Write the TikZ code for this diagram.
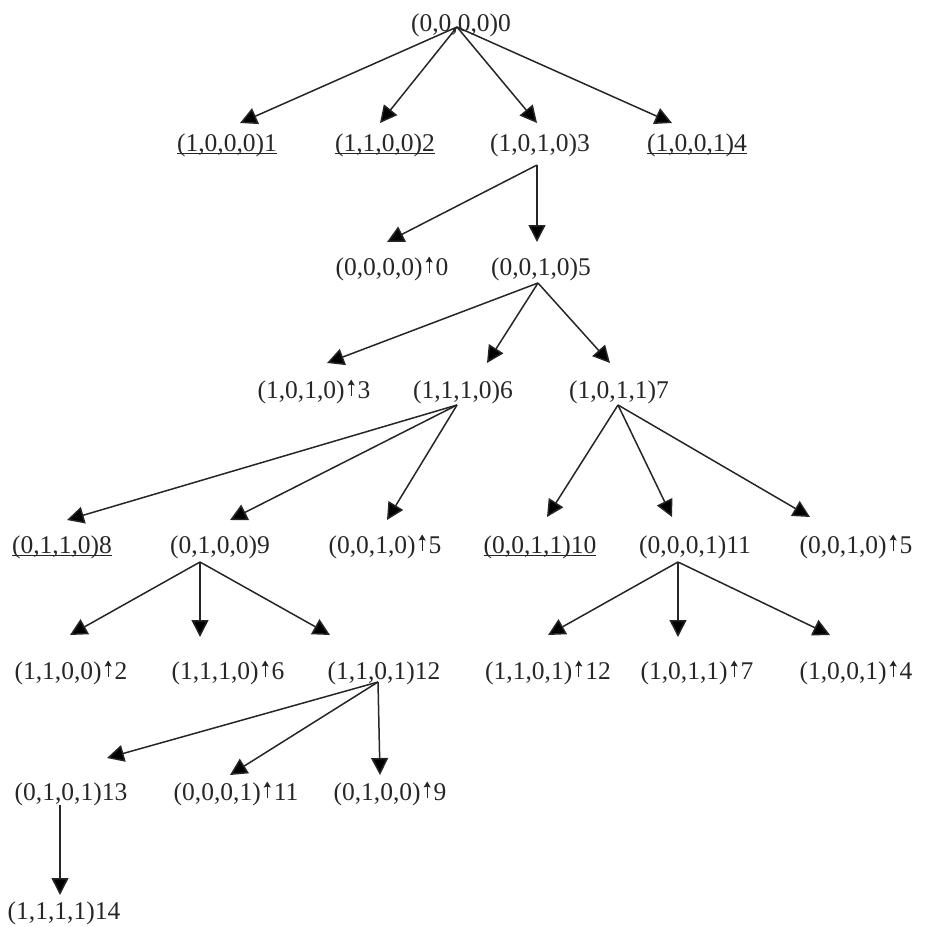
\documentclass[tikz,border=0pt]{standalone}
\usepackage{fontspec}
\setmainfont{Liberation Serif}
\usetikzlibrary{arrows.meta,calc}
% underlined state label
\newcommand{\ulbl}[1]{\setbox0\hbox{#1}\rlap{\rule[-3pt]{\wd0}{1.3pt}}\box0}
% thin upward arrow marking a repeated state
\newcommand{\rep}{\tikz[baseline=0pt,x=1pt,y=1pt]{%
  \draw[line width=1.1pt,-{Stealth[length=6pt,width=7pt,inset=1pt]}] (0,2.5)--(0,18.5);
  \path (-6.5,0) (6.5,0);}}
\begin{document}
\begin{tikzpicture}[x=1pt,y=-1pt,
  lbl/.style={inner sep=0pt, anchor=base, text=black!85,
              font=\fontsize{25.5}{30}\selectfont},
  arr/.style={draw=black!85, line width=1.5pt,
              -{Triangle[length=17pt,width=17pt]}}]
\useasboundingbox (0,0) rectangle (926,927);

% states, placed at their baselines
\node[lbl] (n0)   at (461,31)  {(0,0,0,0)0};
\node[lbl] (n1)   at (227,151) {\ulbl{(1,0,0,0)1}};
\node[lbl] (n2)   at (385,151) {\ulbl{(1,1,0,0)2}};
\node[lbl] (n3)   at (540,151) {(1,0,1,0)3};
\node[lbl] (n4)   at (697,151) {\ulbl{(1,0,0,1)4}};
\node[lbl] (r0)   at (392,275) {(0,0,0,0)\rep0};
\node[lbl] (n5)   at (541,275) {(0,0,1,0)5};
\node[lbl] (r3)   at (314,398) {(1,0,1,0)\rep3};
\node[lbl] (n6)   at (463,398) {(1,1,1,0)6};
\node[lbl] (n7)   at (619,398) {(1,0,1,1)7};
\node[lbl] (n8)   at (62,553)  {\ulbl{(0,1,1,0)8}};
\node[lbl] (n9)   at (220,553) {(0,1,0,0)9};
\node[lbl] (r5a)  at (385,553) {(0,0,1,0)\rep5};
\node[lbl] (n10)  at (540,553) {\ulbl{(0,0,1,1)10}};
\node[lbl] (n11)  at (695,553) {(0,0,0,1)11};
\node[lbl] (r5b)  at (856,553) {(0,0,1,0)\rep5};
\node[lbl] (r2)   at (71,679)  {(1,1,0,0)\rep2};
\node[lbl] (r6)   at (228,679) {(1,1,1,0)\rep6};
\node[lbl] (n12)  at (384,679) {(1,1,0,1)12};
\node[lbl] (r12)  at (548,679) {(1,1,0,1)\rep12};
\node[lbl] (r7)   at (697,679) {(1,0,1,1)\rep7};
\node[lbl] (r4)   at (856,679) {(1,0,0,1)\rep4};
\node[lbl] (n13)  at (71,800)  {(0,1,0,1)13};
\node[lbl] (r11)  at (236,800) {(0,0,0,1)\rep11};
\node[lbl] (r9)   at (390,800) {(0,1,0,0)\rep9};
\node[lbl] (n14)  at (64,919)  {(1,1,1,1)14};

% transitions
\draw[arr] ($(n0.base)+(-4,-4)$) -- ($(n1.base)+(13,-28)$);
\draw[arr] ($(n0.base)+(-4,-4)$) -- ($(n2.base)+(-5,-28)$);
\draw[arr] ($(n0.base)+(-4,-4)$) -- ($(n3.base)+(-3,-28)$);
\draw[arr] ($(n0.base)+(-4,-4)$) -- ($(n4.base)+(-25,-28)$);

\draw[arr] ($(n3.base)+(-3,14)$) -- ($(r0.base)+(-5,-33)$);
\draw[arr] ($(n3.base)+(-3,14)$) -- ($(n5.base)+(-4,-33)$);

\draw[arr] ($(n5.base)+(-3,8)$) -- ($(r3.base)+(13,-35)$);
\draw[arr] ($(n5.base)+(-3,8)$) -- ($(n6.base)+(24,-35)$);
\draw[arr] ($(n5.base)+(-3,8)$) -- ($(n7.base)+(-9,-35)$);

\draw[arr] ($(n6.base)+(-6,7)$) -- ($(n8.base)+(5,-33)$);
\draw[arr] ($(n6.base)+(-6,7)$) -- ($(n9.base)+(10,-33)$);
\draw[arr] ($(n6.base)+(-6,7)$) -- ($(r5a.base)+(2,-33)$);

\draw[arr] ($(n7.base)+(-1,7)$) -- ($(n10.base)+(7,-36)$);
\draw[arr] ($(n7.base)+(-1,7)$) -- ($(n11.base)+(-23,-36)$);
\draw[arr] ($(n7.base)+(-1,7)$) -- ($(r5b.base)+(-46,-36)$);

\draw[arr] ($(n9.base)+(-20,9)$) -- ($(r2.base)+(-1,-44)$);
\draw[arr] ($(n9.base)+(-20,9)$) -- ($(r6.base)+(-28,-42)$);
\draw[arr] ($(n9.base)+(-20,9)$) -- ($(n12.base)+(-54,-44)$);

\draw[arr] ($(n11.base)+(-17,9)$) -- ($(r12.base)+(0,-44)$);
\draw[arr] ($(n11.base)+(-17,9)$) -- ($(r7.base)+(-19,-42)$);
\draw[arr] ($(n11.base)+(-17,9)$) -- ($(r4.base)+(-26,-44)$);

\draw[arr] ($(n12.base)+(-6,3)$) -- ($(n13.base)+(36,-42)$);
\draw[arr] ($(n12.base)+(-6,3)$) -- ($(r11.base)+(-6,-25)$);
\draw[arr] ($(n12.base)+(-6,3)$) -- ($(r9.base)+(-10,-25)$);

\draw[arr] ($(n13.base)+(-11,5)$) -- ($(n14.base)+(-4,-24)$);
\end{tikzpicture}
\end{document}
